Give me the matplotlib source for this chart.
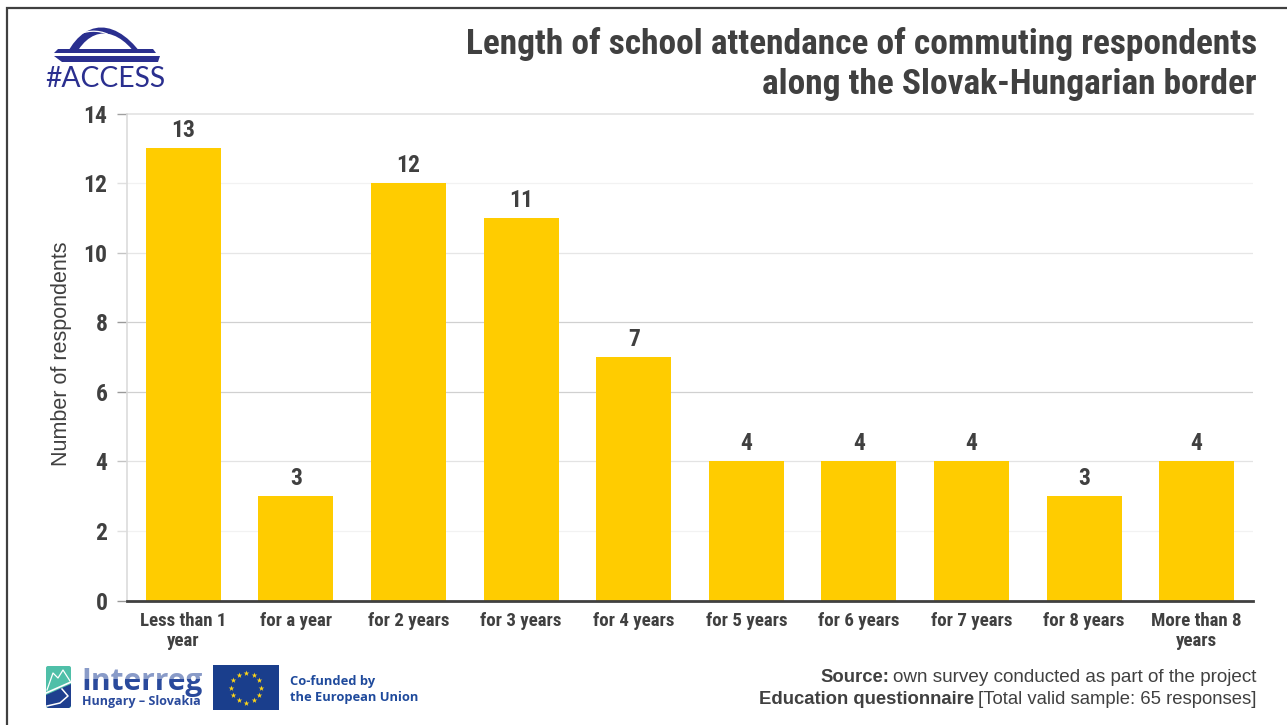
import numpy as np
import matplotlib
matplotlib.use("Agg")
import matplotlib.pyplot as plt
from matplotlib.patches import Rectangle, Polygon, FancyBboxPatch, PathPatch
from matplotlib.path import Path

categories = ["Less than 1\nyear", "for a year", "for 2 years", "for 3 years", "for 4 years",
              "for 5 years", "for 6 years", "for 7 years", "for 8 years", "More than 8\nyears"]
values = [13, 3, 12, 11, 7, 4, 4, 4, 3, 4]
yticks = [0, 2, 4, 6, 8, 10, 12, 14]
title = "Length of school attendance of commuting respondents\nalong the Slovak-Hungarian border"
ylabel = "Number of respondents"

W, H = 1287, 725
NARROW = "Roboto Condensed"
SANS = "Liberation Sans"
DARK = "#404040"
BLUE = "#2a2f8f"

fig = plt.figure(figsize=(W/100, H/100), dpi=100, facecolor="white")
ax = fig.add_axes([127/W, 1-600.6/H, (1253-127)/W, 487/H])
x = np.arange(len(values))
ax.bar(x, values, width=0.665, color="#ffcc00", zorder=3)
ax.set_xlim(-0.5, len(values)-0.5)
ax.set_ylim(0, 14)
ax.set_yticks(yticks)
ax.set_yticklabels([str(v) for v in yticks], fontsize=17, fontweight="bold", family=NARROW, color=DARK)
ax.set_xticks(x)
ax.set_xticklabels(categories, fontsize=13.6, fontweight="bold", family=NARROW, color=DARK, linespacing=1.13)
ax.tick_params(axis="x", length=0, pad=8)
ax.tick_params(axis="y", length=7, width=1, pad=7)
ax.set_ylabel(ylabel, fontsize=15.5, family=SANS, color=DARK)
ax.yaxis.set_label_coords((72-127)/1126, 0.506)
ax.grid(axis="y", zorder=0)
# the reference's gridlines and ticks vary in strength from one level to the next
grid_styles = ["#ffffff", "#f2f2f2", "#e3e3e3", "#d0d0d0", "#d0d0d0", "#e6e6e6", "#f2f2f2", "#e0e0e0"]
tick_styles = ["#999999", "#e0e0e0", "#c4c4c4", "#9a9a9a", "#9a9a9a", "#c4c4c4", "#e0e0e0", "#a0a0a0"]
for line, gc in zip(ax.yaxis.get_gridlines(), grid_styles):
    line.set_color(gc)
    line.set_linewidth(0.9)
ax.yaxis.get_gridlines()[-1].set_linewidth(1.1)
ax.yaxis.get_gridlines()[-1].set_clip_on(False)
for tick, tc in zip(ax.yaxis.get_major_ticks(), tick_styles):
    tick.tick1line.set_markeredgecolor(tc)
for s in ["top", "right"]:
    ax.spines[s].set_visible(False)
ax.spines["left"].set_color("#dcdcdc")
ax.spines["left"].set_linewidth(1.2)
ax.spines["bottom"].set_color("#404040")
ax.spines["bottom"].set_linewidth(2)
ax.spines["bottom"].set_zorder(5)
for xi, v in zip(x, values):
    ax.annotate(str(v), (xi, v), xytext=(0, 4.5), textcoords="offset points", ha="center", va="bottom",
                fontsize=17, fontweight="bold", family=NARROW, color=DARK, zorder=4)

# overlay in reference pixel coordinates for the frame, header, footer and logos
ov = fig.add_axes([0, 0, 1, 1], zorder=10)
ov.set_xlim(0, W); ov.set_ylim(H, 0); ov.axis("off"); ov.patch.set_alpha(0)
ov.plot([7, 7, W], [H, 8, 8], color="#404040", lw=1.6, solid_joinstyle="miter")

ov.text(1257, 64, title, ha="right", va="center", multialignment="right", fontsize=25.45,
        fontweight="bold", family=NARROW, color=DARK, linespacing=1.25)

# footer source
ov.text(1256.5, 677, "own survey conducted as part of the project", ha="right", va="center",
        fontsize=13.55, family=SANS, color=DARK)
ov.text(889, 677, "Source:", ha="right", va="center", fontsize=13.3, fontweight="bold", family=SANS, color=DARK)
ov.text(1256.5, 699, "[Total valid sample: 65 responses]", ha="right", va="center",
        fontsize=13.3, family=SANS, color=DARK)
ov.text(974, 699, "Education questionnaire", ha="right", va="center", fontsize=13.3, fontweight="bold", family=SANS, color=DARK)

# ACCESS logo
ov.text(45, 78.5, "#ACCESS", ha="left", va="center", fontsize=20.3, family="Lato", color=BLUE)
ov.add_patch(PathPatch(Path([(63, 62), (82, 16), (118, 16), (147, 62), (141, 62), (118, 24), (88, 24), (72, 62), (63, 62)],
                            [Path.MOVETO, Path.CURVE4, Path.CURVE4, Path.CURVE4, Path.LINETO,
                             Path.CURVE4, Path.CURVE4, Path.CURVE4, Path.CLOSEPOLY]),
                       fc=BLUE, ec="none"))
ov.add_patch(PathPatch(Path([(82, 33), (95, 29), (107, 32), (115, 39)],
                            [Path.MOVETO, Path.CURVE4, Path.CURVE4, Path.CURVE4]),
                       fc="none", ec="white", lw=0.9))
ov.add_patch(Rectangle((54, 53), 106, 3, fc="white", ec="none"))
ov.add_patch(Polygon([(58, 49), (153, 49), (156, 53), (54, 53)], fc=BLUE, ec="none"))
ov.add_patch(Polygon([(54, 56), (160, 56), (158, 62), (62, 62)], fc=BLUE, ec="none"))

# Interreg logo
ov.add_patch(FancyBboxPatch((46, 666), 25, 42, boxstyle="round,pad=0,rounding_size=2", fc="#4fbfa8", ec="none"))
ov.add_patch(Polygon([(46, 695), (71, 684), (71, 706), (69, 708), (48, 708), (46, 706)], fc="#1f3f8f", ec="none"))
ov.plot([46, 71], [693, 682], color="white", lw=1.2)
ov.plot([47, 53, 58, 63, 70], [690, 673, 678, 670, 681], color="white", lw=0.9)
ov.plot([62, 68, 60, 47], [689, 696, 703, 706], color="white", lw=1.1)
ov.text(81, 682, "Interreg", ha="left", va="center", fontsize=21.5, fontweight="bold", family="Open Sans", color="#2a4a9c")
ov.add_patch(Rectangle((80, 664), 124, 15, fc="white", ec="none", alpha=0.45, zorder=4))
ov.text(82, 702, "Hungary \u2013 Slovakia", ha="left", va="center", fontsize=9, fontweight="bold", family="Open Sans", color="#2a4a9c")

# EU flag
ov.add_patch(Rectangle((213, 665), 66, 45, fc="#1a3e8c", ec="none"))
ang = np.deg2rad(np.arange(0, 360, 30))
ov.scatter(246+15*np.cos(ang), 687.5+15*np.sin(ang), marker="*", s=18, color="#ffd617", linewidths=0)
ov.text(290, 681, "Co-funded by", ha="left", va="center", fontsize=9.3, fontweight="bold", family="Open Sans", color="#1f4a9c")
ov.text(290, 697, "the European Union", ha="left", va="center", fontsize=9.3, fontweight="bold", family="Open Sans", color="#1f4a9c")

fig.savefig("out.png", dpi=100)
